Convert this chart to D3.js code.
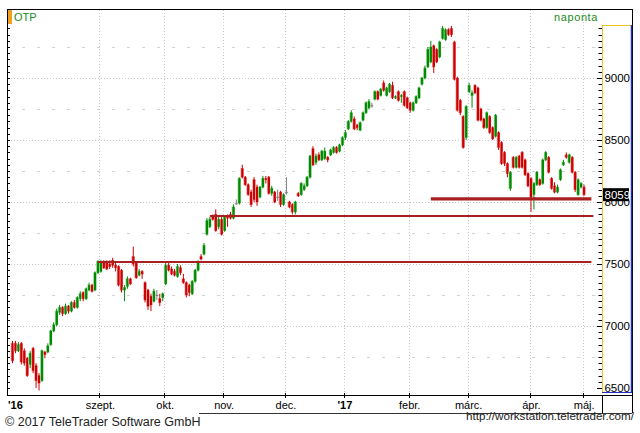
<!DOCTYPE html>
<html><head><meta charset="utf-8">
<script src="https://cdn.jsdelivr.net/npm/d3@7"></script>
<style>html,body{margin:0;padding:0;background:#fff;}svg{display:block;font-family:"Liberation Sans",Arial,sans-serif;}</style>
</head><body><svg id="c" width="640" height="433"></svg>
<script>
// ---- data (daily candles, OTP) ----
const opens = [6860,6860,6800,6860,6800,6740,6690,6820,6680,6600,6560,6790,6790,6850,6960,7010,7110,7150,7100,7160,7120,7190,7150,7220,7270,7220,7290,7330,7290,7430,7440,7520,7510,7500,7530,7490,7480,7450,7290,7320,7380,7560,7510,7410,7440,7350,7290,7240,7200,7250,7220,7230,7340,7490,7460,7440,7400,7470,7380,7350,7330,7260,7360,7450,7560,7580,7740,7800,7880,7900,7800,7860,7770,7880,7900,7870,7990,7990,8270,8200,8140,8080,8180,8120,8040,8120,8190,8200,8070,8080,8040,8080,7980,8080,8000,7980,7920,8070,8060,8100,8130,8200,8430,8320,8380,8340,8350,8360,8380,8400,8440,8410,8460,8520,8590,8650,8670,8620,8580,8660,8720,8760,8780,8830,8890,8860,8960,8860,8890,8940,8840,8890,8850,8890,8840,8800,8740,8800,8840,8950,9000,9090,9130,9260,9230,9170,9320,9310,9390,9400,9290,9000,8820,8690,8520,8890,8860,8940,8920,8750,8670,8600,8690,8600,8530,8560,8480,8400,8310,8110,8360,8280,8370,8400,8340,8230,8190,8060,8140,8180,8150,8340,8360,8190,8130,8080,8180,8300,8380,8320,8360,8240,8060,8120,8120];
const highs = [6880,6880,6870,6870,6820,6750,6800,6830,6700,6620,6810,6800,6860,6970,7030,7140,7170,7160,7180,7170,7200,7210,7240,7280,7280,7310,7350,7340,7440,7530,7530,7530,7530,7530,7550,7510,7490,7460,7330,7400,7390,7640,7520,7460,7450,7360,7300,7260,7300,7290,7260,7270,7510,7510,7480,7460,7500,7490,7420,7360,7340,7370,7460,7530,7580,7670,7870,7880,7900,7940,7880,7880,7890,7900,7920,7980,8020,8200,8300,8210,8150,8100,8200,8140,8130,8210,8210,8210,8130,8090,8100,8090,8070,8200,8010,7990,8010,8080,8160,8150,8210,8380,8450,8390,8400,8420,8440,8370,8430,8450,8450,8470,8530,8580,8660,8740,8690,8630,8650,8730,8810,8830,8800,8900,8900,8920,8980,8930,8960,8970,8860,8900,8870,8900,8850,8810,8810,8860,8930,9010,9100,9250,9300,9270,9240,9300,9420,9400,9400,9420,9300,9010,8830,8700,8780,8960,8900,8950,8930,8760,8680,8730,8700,8610,8710,8570,8490,8410,8320,8250,8370,8370,8380,8410,8350,8240,8200,8160,8250,8190,8350,8410,8370,8200,8160,8140,8270,8340,8400,8390,8370,8250,8190,8160,8140];
const lows = [6700,6780,6790,6690,6680,6590,6660,6620,6500,6480,6550,6740,6780,6840,6950,7000,7090,7080,7090,7100,7110,7140,7140,7200,7200,7210,7280,7270,7280,7420,7430,7460,7450,7460,7470,7440,7320,7270,7200,7300,7330,7480,7380,7400,7380,7190,7130,7120,7190,7210,7160,7200,7330,7440,7410,7400,7390,7410,7340,7230,7240,7250,7350,7440,7530,7570,7730,7790,7850,7760,7780,7730,7760,7800,7860,7860,7980,7980,8190,8130,8050,7960,8000,7970,8030,8110,8150,8060,8050,7990,8010,7960,7970,8060,7950,7900,7900,8040,8050,8090,8120,8190,8290,8300,8330,8330,8340,8320,8370,8390,8390,8400,8450,8500,8580,8640,8580,8580,8570,8650,8710,8750,8760,8820,8820,8850,8890,8850,8880,8830,8830,8810,8800,8770,8750,8720,8730,8790,8830,8940,8990,9080,9120,9040,9120,9160,9310,9300,9340,9330,8980,8730,8700,8430,8500,8880,8760,8870,8650,8650,8590,8590,8550,8500,8520,8420,8300,8290,8200,8090,8270,8270,8270,8270,8210,8120,7920,7940,8130,8130,8140,8330,8230,8100,8070,8070,8170,8290,8350,8310,8230,8080,8050,8110,8050];
const closes = [6720,6800,6850,6710,6700,6600,6780,6640,6560,6540,6800,6770,6840,6960,7010,7120,7150,7100,7160,7120,7190,7150,7230,7260,7220,7300,7330,7280,7430,7520,7520,7470,7460,7480,7490,7470,7330,7290,7310,7380,7340,7500,7390,7440,7420,7210,7160,7170,7280,7250,7190,7260,7490,7450,7420,7410,7480,7430,7350,7250,7270,7360,7450,7520,7540,7650,7850,7860,7860,7770,7860,7740,7880,7870,7870,7960,7990,8190,8200,8140,8060,7980,8020,8000,8120,8190,8180,8070,8110,8000,8040,7980,8060,8080,7960,7920,8000,8050,8150,8130,8200,8370,8300,8370,8340,8410,8410,8340,8420,8440,8400,8460,8520,8560,8650,8720,8590,8600,8640,8720,8800,8810,8780,8890,8830,8910,8900,8920,8950,8840,8850,8820,8860,8780,8760,8740,8800,8850,8920,9000,9080,9230,9250,9090,9130,9290,9400,9390,9350,9350,8990,8740,8720,8440,8770,8940,8880,8880,8660,8660,8600,8720,8560,8510,8700,8440,8310,8310,8230,8240,8280,8360,8280,8280,8220,8130,8040,8150,8240,8140,8340,8400,8240,8110,8080,8120,8260,8320,8360,8380,8240,8100,8180,8150,8059];
const yTicks = [6500,7000,7500,8000,8500,9000];
const monthLabels = ["szept.","okt.","nov.","dec.","'17","febr.","márc.","ápr.","máj."];
const monthIdx = [29.5,51.5,71.5,92.5,112.5,134.5,154.5,175.8,193.7];
const firstLabel = "'16";
const levels = [8025,7887,7516];
const levelStart = [142,67,29];
const levelEnd = [196.5,197.2,196.5];
const levelWidth = [3.2,2,2];
const lastPrice = 8059;

const svg = d3.select("#c");
const W=640,H=433;
const pL=7,pR=602,pT=9,pB=395;
const x = d3.scaleLinear().domain([0,194]).range([12.5,584]);
const y = d3.scaleLinear().domain([6500,9000]).range([388,78]);

svg.append("rect").attr("width",W).attr("height",H).attr("fill","#fff");

// gridlines
const g = svg.append("g");
d3.range(6750,9300,250).forEach(v=>{
  const major = v%500===0;
  g.append("line").attr("x1",pL+1).attr("x2",pR-2).attr("y1",Math.round(y(v))+0.5).attr("y2",Math.round(y(v))+0.5)
   .attr("stroke", major?"#c8c8c8":"#d2d2d2").attr("stroke-width",1)
   .attr("stroke-dasharray", major?"1,2":"3,12").attr("stroke-dashoffset", major?0:-14);
});
monthIdx.forEach(i=>{
  g.append("line").attr("x1",Math.round(x(i))+0.5).attr("x2",Math.round(x(i))+0.5).attr("y1",pT+1).attr("y2",pB)
   .attr("stroke","#c8c8c8").attr("stroke-dasharray","1,2");
});

// candles
const cg = svg.append("g");
const colUp="#008a00", colDn="#cc0000", colEq="#808080";
const shUp="#9fd49f", shDn="#eea0a0", shEq="#c0c0c0";
closes.forEach((c,i)=>{
  const o=opens[i], h=highs[i], l=lows[i];
  const col = c>o?colUp:(c<o?colDn:colEq);
  const sh = c>o?shUp:(c<o?shDn:shEq);
  const cx = x(i);
  const top = y(Math.max(o,c)), bot = y(Math.min(o,c));
  cg.append("rect").attr("x",cx-1.8).attr("y",top-0.5).attr("width",3.2).attr("height",Math.max(1.5,bot-top+1)).attr("fill",sh);
  cg.append("line").attr("x1",cx).attr("x2",cx).attr("y1",y(h)).attr("y2",y(l)).attr("stroke",col).attr("stroke-width",1);
  cg.append("rect").attr("x",cx-1).attr("y",top).attr("width",2.2).attr("height",Math.max(1,bot-top)).attr("fill",col);
});

// support/resistance lines
levels.forEach((v,k)=>{
  svg.append("line").attr("x1",x(levelStart[k])).attr("x2",x(levelEnd[k])).attr("y1",y(v)).attr("y2",y(v))
   .attr("stroke","#a82020").attr("stroke-width",levelWidth[k]);
});

// frame & left ticks
svg.append("line").attr("x1",pL).attr("x2",632).attr("y1",pT+0.5).attr("y2",pT+0.5).attr("stroke","#000");
svg.append("line").attr("x1",pL+0.5).attr("x2",pL+0.5).attr("y1",pT).attr("y2",pB).attr("stroke","#000");
svg.append("line").attr("x1",632.5).attr("x2",632.5).attr("y1",pT).attr("y2",413).attr("stroke","#000");
d3.range(6450,9550,50).forEach(v=>{
  const yy=Math.round(y(v))+0.5;
  if(yy<pT+2||yy>pB-1) return;
  svg.append("line").attr("x1",pL).attr("x2",pL+3).attr("y1",yy).attr("y2",yy).attr("stroke","#000");
});

// right axis panel
const ax = svg.append("g");
ax.append("rect").attr("x",602.5).attr("y",25.5).attr("width",29.5).attr("height",367).attr("fill","#fff").attr("stroke","none");
ax.append("line").attr("x1",602.5).attr("x2",602.5).attr("y1",25).attr("y2",393).attr("stroke","#f0c030");
ax.append("line").attr("x1",602).attr("x2",632).attr("y1",25.5).attr("y2",25.5).attr("stroke","#f0c030");
ax.append("line").attr("x1",631.5).attr("x2",631.5).attr("y1",25).attr("y2",393).attr("stroke","#2030c0").attr("stroke-width",1.5);
ax.append("line").attr("x1",602).attr("x2",632).attr("y1",392.5).attr("y2",392.5).attr("stroke","#2030c0");
d3.range(6450,9500,50).forEach(v=>{
  const yy=Math.round(y(v))+0.5;
  if(yy<28||yy>391) return;
  const major=v%500===0;
  ax.append("line").attr("x1",major?597:598.5).attr("x2",602).attr("y1",yy).attr("y2",yy).attr("stroke","#000");
});
yTicks.forEach(v=>{
  ax.append("text").attr("x",630).attr("y",y(v)+4).attr("text-anchor","end").attr("font-size","11.5px").attr("fill","#000").text(v);
});
ax.append("rect").attr("x",603).attr("y",y(lastPrice)-6.5).attr("width",26).attr("height",13).attr("fill","#000");
ax.append("text").attr("x",604.5).attr("y",y(lastPrice)+4).attr("font-size","11.5px").attr("fill","#fff").text(lastPrice);

// bottom axis row
svg.append("line").attr("x1",pL).attr("x2",632).attr("y1",pB+0.5).attr("y2",pB+0.5).attr("stroke","#000");
svg.append("line").attr("x1",602.5).attr("x2",602.5).attr("y1",pB).attr("y2",413).attr("stroke","#000");
svg.append("line").attr("x1",199).attr("x2",632).attr("y1",413.5).attr("y2",413.5).attr("stroke","#333");
monthIdx.forEach((i,k)=>{
  const xx=Math.round(x(i))+0.5;
  svg.append("line").attr("x1",xx).attr("x2",xx).attr("y1",pB-2).attr("y2",pB+3).attr("stroke","#000");
  const t=svg.append("text").attr("x",x(i)+1).attr("y",409).attr("text-anchor","middle").attr("font-size","11px").attr("fill","#000").text(monthLabels[k]);
  if(monthLabels[k].startsWith("'")) t.attr("font-weight","bold");
});
svg.append("text").attr("x",8).attr("y",409).attr("font-size","11px").attr("font-weight","bold").text(firstLabel);

// header
svg.append("rect").attr("x",8).attr("y",10).attr("width",4).attr("height",14).attr("fill","#f0a020");
svg.append("text").attr("x",14).attr("y",21).attr("font-size","11px").attr("fill","#1a8c1a").text("OTP");
svg.append("text").attr("x",598).attr("y",21).attr("text-anchor","end").attr("font-size","11px").attr("letter-spacing","0.6px").attr("fill","#1a8c1a").text("naponta");

// footer
svg.append("text").attr("x",5).attr("y",426).attr("font-size","12.5px").attr("fill","#222").text("© 2017 TeleTrader Software GmbH");
svg.append("text").attr("x",634).attr("y",420).attr("text-anchor","end").attr("font-size","11px").attr("fill","#222").attr("textLength",168).attr("lengthAdjust","spacingAndGlyphs").text("http://workstation.teletrader.com/");
</script></body></html>
